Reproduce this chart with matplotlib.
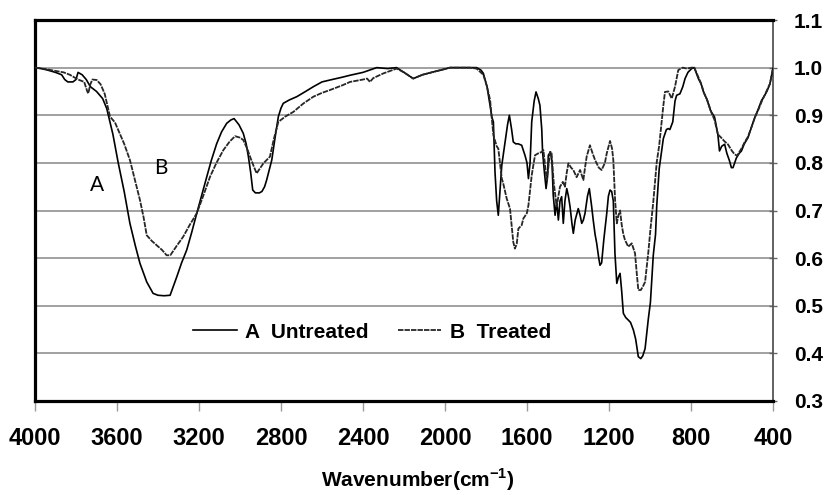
import matplotlib
matplotlib.use("Agg")
import matplotlib.pyplot as plt
from matplotlib import font_manager as fm
from matplotlib.lines import Line2D

# ---------------- data ----------------
wn_A = [4000, 3970, 3940, 3900, 3870, 3855, 3840, 3815, 3800, 3790, 3770, 3750, 3730, 3700, 3670,
        3650, 3620, 3594, 3565, 3537, 3510, 3488, 3455, 3424, 3400, 3370, 3341, 3309, 3285, 3260,
        3235, 3211, 3185, 3162, 3140, 3114, 3090, 3065, 3045, 3029, 3005, 2984, 2970, 2959, 2948,
        2938, 2925, 2905, 2893, 2880, 2870, 2845, 2830, 2813, 2800, 2789, 2760, 2723, 2680, 2642,
        2600, 2561, 2500, 2463, 2400, 2333, 2280, 2236, 2200, 2155, 2110, 2057, 2000, 1976, 1900,
        1846, 1825, 1813, 1795, 1780, 1772, 1764, 1756, 1748, 1740, 1732, 1723, 1707, 1695, 1686,
        1675, 1667, 1655, 1643, 1626, 1610, 1600, 1593, 1585, 1577, 1565, 1556, 1545, 1537, 1528,
        1524, 1515, 1507, 1500, 1496, 1485, 1478, 1472, 1463, 1455, 1447, 1439, 1431, 1423, 1415,
        1406, 1398, 1390, 1380, 1374, 1365, 1350, 1341, 1333, 1325, 1317, 1305, 1296, 1285, 1277,
        1268, 1260, 1250, 1244, 1236, 1225, 1211, 1203, 1195, 1187, 1179, 1171, 1162, 1154, 1146,
        1138, 1130, 1118, 1106, 1095, 1081, 1070, 1057, 1045, 1035, 1024, 1008, 998, 984, 973,
        967, 955, 948, 935, 920, 911, 903, 889, 878, 870, 854, 840, 829, 815, 797,
        784, 764, 751, 740, 724, 705, 691, 685, 669, 661, 650, 636, 625, 612, 603,
        595, 587, 579, 565, 554, 540, 522, 505, 488, 470, 456, 443, 430, 415, 400]
t_A = [1.000, 0.998, 0.995, 0.990, 0.985, 0.975, 0.970, 0.970, 0.975, 0.990, 0.985, 0.975, 0.960, 0.950, 0.935,
       0.914, 0.860, 0.800, 0.740, 0.673, 0.625, 0.589, 0.550, 0.526, 0.522, 0.521, 0.522, 0.560, 0.590, 0.617,
       0.655, 0.694, 0.735, 0.771, 0.805, 0.840, 0.865, 0.883, 0.890, 0.893, 0.880, 0.862, 0.840, 0.813, 0.780,
       0.743, 0.737, 0.737, 0.740, 0.750, 0.764, 0.806, 0.850, 0.897, 0.915, 0.925, 0.932, 0.939, 0.950, 0.960,
       0.970, 0.974, 0.980, 0.984, 0.990, 1.000, 0.998, 1.000, 0.990, 0.977, 0.985, 0.991, 0.997, 1.000, 1.000,
       1.000, 0.995, 0.988, 0.960, 0.920, 0.897, 0.886, 0.780, 0.720, 0.690, 0.740, 0.795, 0.844, 0.880, 0.900,
       0.870, 0.844, 0.840, 0.840, 0.837, 0.816, 0.800, 0.767, 0.800, 0.886, 0.930, 0.949, 0.935, 0.921, 0.870,
       0.823, 0.780, 0.746, 0.770, 0.816, 0.823, 0.800, 0.732, 0.690, 0.720, 0.680, 0.720, 0.729, 0.673, 0.720,
       0.746, 0.730, 0.708, 0.670, 0.652, 0.680, 0.704, 0.690, 0.673, 0.680, 0.694, 0.730, 0.746, 0.710, 0.680,
       0.650, 0.631, 0.600, 0.585, 0.590, 0.640, 0.694, 0.730, 0.743, 0.740, 0.720, 0.610, 0.547, 0.560, 0.568,
       0.530, 0.484, 0.475, 0.470, 0.465, 0.449, 0.430, 0.393, 0.389, 0.395, 0.410, 0.473, 0.507, 0.606, 0.650,
       0.711, 0.788, 0.810, 0.851, 0.870, 0.872, 0.870, 0.886, 0.930, 0.942, 0.945, 0.960, 0.977, 0.990, 0.998,
       1.000, 0.977, 0.966, 0.950, 0.935, 0.910, 0.900, 0.896, 0.860, 0.825, 0.835, 0.839, 0.820, 0.804, 0.790,
       0.790, 0.800, 0.810, 0.820, 0.825, 0.840, 0.853, 0.875, 0.896, 0.915, 0.931, 0.940, 0.950, 0.966, 0.998]

wn_B = [4000, 3950, 3900, 3860, 3830, 3790, 3760, 3745, 3740, 3730, 3720, 3699, 3680, 3660, 3634,
        3610, 3594, 3565, 3537, 3510, 3488, 3470, 3455, 3430, 3406, 3380, 3358, 3340, 3310, 3277,
        3245, 3211, 3180, 3146, 3115, 3081, 3050, 3024, 3000, 2984, 2965, 2951, 2935, 2919, 2900,
        2886, 2854, 2835, 2813, 2780, 2740, 2690, 2642, 2600, 2561, 2500, 2463, 2400, 2380, 2366,
        2350, 2300, 2236, 2200, 2155, 2110, 2057, 1976, 1880, 1846, 1813, 1795, 1780, 1764, 1748,
        1740, 1723, 1716, 1699, 1683, 1667, 1659, 1650, 1642, 1626, 1618, 1601, 1593, 1577, 1561,
        1545, 1528, 1520, 1504, 1496, 1488, 1480, 1470, 1455, 1447, 1439, 1425, 1415, 1406, 1398,
        1385, 1374, 1358, 1341, 1325, 1317, 1309, 1293, 1280, 1268, 1250, 1236, 1220, 1211, 1195,
        1185, 1179, 1170, 1162, 1154, 1146, 1138, 1130, 1122, 1106, 1089, 1073, 1065, 1057, 1045,
        1035, 1024, 1008, 998, 984, 967, 955, 943, 935, 927, 911, 894, 878, 862, 840,
        821, 797, 784, 764, 751, 735, 719, 700, 685, 669, 653, 636, 620, 600, 587,
        575, 565, 554, 540, 522, 505, 488, 470, 456, 443, 430, 415, 400]
t_B = [1.000, 0.997, 0.993, 0.990, 0.985, 0.975, 0.970, 0.950, 0.946, 0.965, 0.975, 0.974, 0.965, 0.945, 0.897,
       0.885, 0.869, 0.840, 0.806, 0.760, 0.722, 0.685, 0.648, 0.636, 0.627, 0.617, 0.606, 0.606, 0.625, 0.645,
       0.670, 0.694, 0.730, 0.771, 0.800, 0.827, 0.845, 0.856, 0.853, 0.848, 0.830, 0.813, 0.795, 0.778, 0.790,
       0.799, 0.813, 0.850, 0.886, 0.897, 0.907, 0.925, 0.939, 0.947, 0.953, 0.963, 0.970, 0.975, 0.977, 0.970,
       0.978, 0.988, 0.998, 0.990, 0.977, 0.985, 0.991, 1.000, 1.000, 0.998, 0.985, 0.960, 0.932, 0.858, 0.835,
       0.830, 0.767, 0.757, 0.725, 0.704, 0.634, 0.620, 0.630, 0.662, 0.669, 0.683, 0.694, 0.711, 0.774, 0.816,
       0.820, 0.823, 0.827, 0.764, 0.790, 0.823, 0.820, 0.760, 0.708, 0.730, 0.750, 0.760, 0.750, 0.780, 0.799,
       0.790, 0.785, 0.770, 0.785, 0.764, 0.790, 0.813, 0.837, 0.820, 0.806, 0.790, 0.785, 0.800, 0.820, 0.846,
       0.830, 0.806, 0.720, 0.673, 0.690, 0.700, 0.670, 0.650, 0.638, 0.624, 0.631, 0.610, 0.570, 0.533, 0.533,
       0.540, 0.550, 0.613, 0.660, 0.718, 0.802, 0.837, 0.886, 0.920, 0.949, 0.950, 0.935, 0.960, 0.995, 1.000,
       0.998, 1.000, 1.000, 0.980, 0.967, 0.945, 0.930, 0.905, 0.890, 0.860, 0.853, 0.845, 0.839, 0.825, 0.818,
       0.815, 0.822, 0.830, 0.842, 0.855, 0.875, 0.896, 0.913, 0.928, 0.940, 0.952, 0.966, 1.000]

x_ticks = [4000, 3600, 3200, 2800, 2400, 2000, 1600, 1200, 800, 400]
y_ticks = [0.3, 0.4, 0.5, 0.6, 0.7, 0.8, 0.9, 1.0, 1.1]
series_labels = ["A  Untreated", "B  Treated"]
x_label = "Wavenumber(cm$^{\\mathbf{-1}}$)"


def has_font(name):
    try:
        fm.findfont(fm.FontProperties(family=name), fallback_to_default=False)
        return True
    except Exception:
        return False


narrow = "Liberation Sans Narrow" if has_font("Liberation Sans Narrow") else "Liberation Sans"
plt.rcParams['font.family'] = ['Liberation Sans', 'DejaVu Sans']
plt.rcParams['mathtext.fontset'] = 'custom'
plt.rcParams['mathtext.rm'] = narrow
plt.rcParams['mathtext.bf'] = narrow + ':bold'

fig = plt.figure(figsize=(8.31, 4.95), dpi=100)
ax = fig.add_axes([35 / 831, 1 - 401 / 495, (773 - 35) / 831, (401 - 20) / 495])

B_STYLE = dict(color='#262626', lw=1.3, dashes=(3, 0.6))

ax.plot(wn_A, t_A, color='black', lw=1.2, zorder=3)
ax.plot(wn_B, t_B, zorder=3, **B_STYLE)

ax.set_xlim(4000, 400)
ax.set_ylim(0.3, 1.1)
ax.set_xticks(x_ticks)
ax.set_yticks(y_ticks)
ax.set_xticklabels([str(v) for v in x_ticks], fontfamily=narrow, fontweight='bold', fontsize=17)
ax.set_yticklabels([f"{v:.1f}" for v in y_ticks], fontweight='bold', fontsize=15)
ax.yaxis.tick_right()
ax.tick_params(axis='y', direction='inout', length=6, width=1, color='#666666', pad=12)
ax.tick_params(axis='x', direction='out', length=7, width=1, color='#999999', pad=12)

for v in y_ticks[1:-1]:
    ax.axhline(v, color='#9a9a9a', lw=1.3, zorder=1)

for s in ['left', 'top', 'bottom']:
    ax.spines[s].set_linewidth(2.3)
    ax.spines[s].set_color('black')
ax.spines['right'].set_linewidth(1.3)
ax.spines['right'].set_color('#555555')

ax.text(3698, 0.753, "A", fontfamily='Lato', fontsize=15, ha='center', va='center')
ax.text(3385, 0.789, "B", fontfamily='Lato', fontsize=15, ha='center', va='center')

handles = [Line2D([], [], color='black', lw=1.2),
           Line2D([], [], **B_STYLE)]
fig.legend(handles, series_labels, loc='center', bbox_to_anchor=(372 / 831, 1 - 332 / 495),
           ncol=2, frameon=False, handlelength=2.1, handletextpad=0.4, columnspacing=1.4,
           prop={'weight': 'bold', 'size': 15})

fig.text(418 / 831, 1 - 480 / 495, x_label, fontfamily=narrow, fontweight='bold', fontsize=15,
         ha='center', va='center')

fig.savefig("out.png", dpi=100)
